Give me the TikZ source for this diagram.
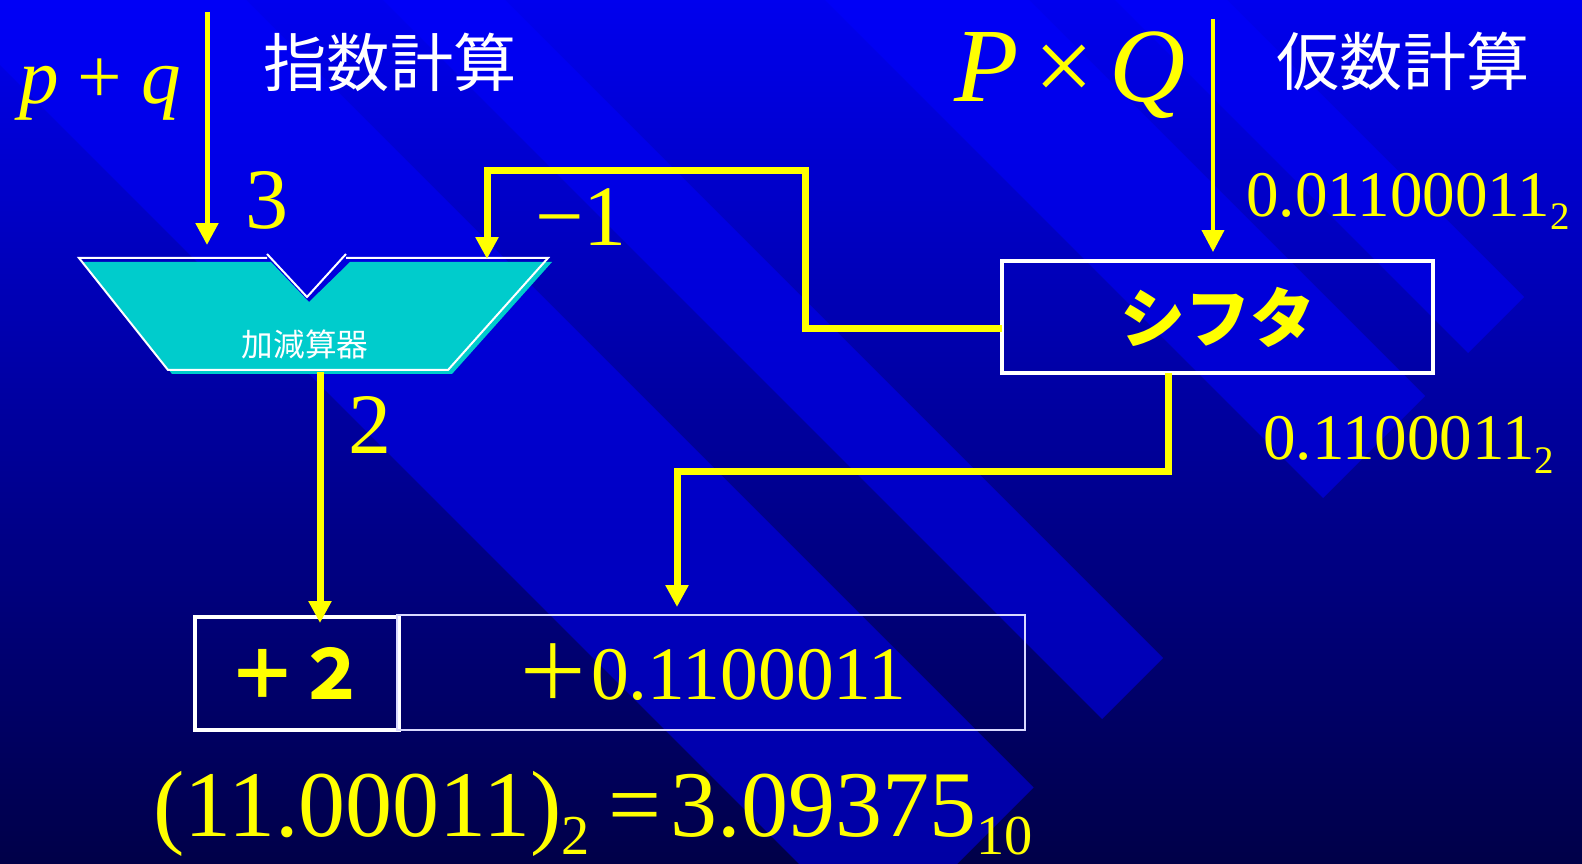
\documentclass[tikz,border=0pt]{standalone}
\usepackage{fontspec}
\usepackage{graphicx}
\setmainfont{Liberation Serif}
\newfontfamily\jpfont{Noto Sans CJK JP}
\usetikzlibrary{arrows.meta,calc}
\newdimen\pxu \pxu=0.02cm
\definecolor{bgtop}{RGB}{0,0,238}
\definecolor{bgbot}{RGB}{0,0,72}
\definecolor{stripe}{RGB}{0,0,255}
\definecolor{alucyan}{RGB}{0,204,204}
\definecolor{ylw}{RGB}{255,255,0}
\newcommand{\bsub}[1]{\raisebox{-0.2em}{\scalebox{0.6}{#1}}}
\tikzset{
  yl/.style={text=ylw,inner sep=0pt},
  wl/.style={text=white,inner sep=0pt},
  unit/.style={draw=white,line width=3.5\pxu,inner sep=0pt,outer sep=0pt},
  bus/.style={draw=ylw,line width=7\pxu,-{Triangle[length=4.4mm,width=4.4mm]}},
  feed/.style={bus,line width=5\pxu},
  band/.style={fill=stripe,fill opacity=0.5},
}

\begin{document}
\begin{tikzpicture}[x=0.02cm,y=-0.02cm]
  \useasboundingbox (0,0) rectangle (1582,864);
  % background
  \shade[top color=bgtop,bottom color=bgbot] (0,0) rectangle (1582,864);
  \begin{scope}
    \clip (0,0) rectangle (1582,864);
    \foreach \ua/\ub in {-65/246,383/505,825/1029,1115/1227}
      \fill[band] ({(-900+\ua)/2},{(-900-\ua)/2}) -- ({(1821+\ua)/2},{(1821-\ua)/2})
        -- ({(1821+\ub)/2},{(1821-\ub)/2}) -- ({(-900+\ub)/2},{(-900-\ub)/2}) -- cycle;
  \end{scope}

  % adder
  \fill[alucyan] (83,262) -- (271,262) -- (309,302) -- (350,262) -- (552,262) -- (452,374) -- (172,374) -- cycle;
  \draw[white,line width=2\pxu] (267,258) -- (79,258) -- (168,370) -- (448,370) -- (548,258) -- (346,258);
  \draw[white,line width=2\pxu] (267,254) -- (307,297) -- (346,254);
  \node[wl,font=\jpfont\fontsize{18}{20}\selectfont] (adder) at (305,344) {加減算器};
  \coordinate (addA) at (207,245);
  \coordinate (addB) at (487,259);
  \coordinate (addC) at (320,372);
  \coordinate (pqtop) at (207,12);
  \coordinate (PQtop) at (1213,19);
  \coordinate (fbturn) at (805,171);

  % units
  \node[unit,minimum width=431\pxu,minimum height=112\pxu,text=ylw,font=\jpfont\bfseries\fontsize{37}{40}\selectfont] (shifter) at (1217.5,317) {シフタ};
  \node[unit,minimum width=204\pxu,minimum height=113\pxu,text=ylw,font=\jpfont\bfseries\fontsize{39}{44}\selectfont] (expbox) at (297,673.5) {＋２};
  \node[unit,line width=2\pxu,draw=white!85!blue,minimum width=628\pxu,minimum height=115\pxu,text=ylw,font=\fontsize{43}{48}\selectfont] (manbox) at (711,672.5) {{\jpfont ＋}0.1100011};

  % labels
  \node[yl,font=\fontsize{45}{50}\selectfont,anchor=base] (pq) at (100,104) {\textit{p}\hspace{0.24em}+\hspace{0.24em}\textit{q}};
  \node[wl,font=\jpfont\fontsize{36}{40}\selectfont] (expttl) at (390,62) {指数計算};
  \node[yl,font=\fontsize{60}{66}\selectfont,anchor=base] (PQ) at (1070,102) {\textit{P}\hspace{0.15em}×\hspace{0.15em}\textit{Q}};
  \node[wl,font=\jpfont\fontsize{36}{40}\selectfont] (manttl) at (1403,61) {仮数計算};
  \node[yl,font=\fontsize{49}{54}\selectfont,anchor=base] (lbl3) at (267,229) {3};
  \node[yl,font=\fontsize{49}{54}\selectfont,anchor=base] (lbl2) at (370,454) {2};
  \node[yl,font=\fontsize{49}{54}\selectfont,anchor=base] (lblm1) at (581,246) {−1};
  \node[yl,font=\fontsize{37}{42}\selectfont,anchor=base west] (manin) at (1246,217) {0.01100011\bsub{2}};
  \node[yl,font=\fontsize{37}{42}\selectfont,anchor=base west] (manout) at (1263,460) {0.1100011\bsub{2}};
  \node[yl,font=\fontsize{53.5}{58}\selectfont,anchor=base] (result) at (593,836) {(11.00011)\bsub{2}\hspace{0.2em}=\hspace{0.1em}3.09375\bsub{10}};

  % connectors
  \draw[feed] (pqtop) -- (addA);
  \draw[feed,line width=4\pxu] (PQtop) -- ($(PQtop |- shifter.north)+(0,-9)$);
  \draw[bus] ($(shifter.west)+(0,12)$) -| (fbturn) -| (addB);
  \draw[bus] (addC) -- ($(addC |- expbox.north)+(0,6)$);
  \draw[bus] ($(shifter.south)+(-49,0)$) -- ++(0,99) -| ($(manbox.north)+(-34,-8)$);
\end{tikzpicture}
\end{document}
